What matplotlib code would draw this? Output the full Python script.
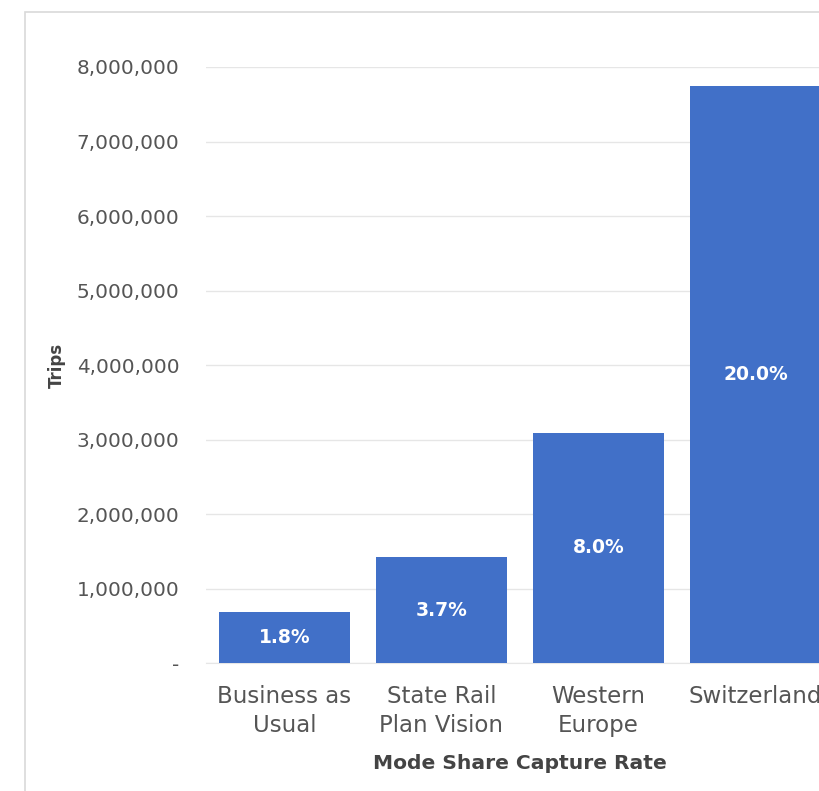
import matplotlib as mpl
mpl.use('Agg')
import matplotlib.pyplot as plt
from matplotlib.patches import Rectangle
from matplotlib.ticker import FuncFormatter

# data
categories = ["Business as\nUsual", "State Rail\nPlan Vision", "Western\nEurope", "Switzerland"]
trips = [690000, 1420000, 3090000, 7740000]
share_labels = ["1.8%", "3.7%", "8.0%", "20.0%"]
yticks = [0, 1000000, 2000000, 3000000, 4000000, 5000000, 6000000, 7000000, 8000000]

plt.rcParams['font.family'] = ['DejaVu Sans']

fig = plt.figure(figsize=(8.2, 7.91), dpi=100)
# plot area runs past the right edge, as in the cropped reference
ax = fig.add_axes([0.251, 0.1618, 0.766, 0.7535])

# outer frame of the chart container (top and left edge visible)
fig.add_artist(Rectangle((25 / 820, -0.1), 1.2, 1 - 12 / 791 + 0.1,
                         transform=fig.transFigure, fill=False,
                         edgecolor='#d9d9d9', linewidth=1.2))

x = range(len(categories))
bars = ax.bar(x, trips, width=0.83, color='#4170c8', zorder=3)

for b, lab in zip(bars, share_labels):
    ax.text(b.get_x() + b.get_width() / 2, b.get_height() / 2, lab,
            ha='center', va='center', color='white', fontsize=13.5,
            fontweight='bold', zorder=4)

ax.set_xlim(-0.5, len(categories) - 0.5)
ax.set_ylim(0, 8000000)
ax.set_yticks(yticks)
ax.yaxis.set_major_formatter(FuncFormatter(lambda v, p: '-' if v == 0 else '{:,.0f}'.format(v)))
ax.set_xticks(list(x))
ax.set_xticklabels(categories, fontsize=16.5, color='#555555', linespacing=1.3)

ax.grid(axis='y', color='#e6e6e6', linewidth=1, zorder=0)
ax.set_axisbelow(True)
for s in ['top', 'right', 'left']:
    ax.spines[s].set_visible(False)
ax.spines['bottom'].set_color('#e6e6e6')
ax.tick_params(axis='both', length=0)
ax.tick_params(axis='y', labelsize=14.4, labelcolor='#555555', pad=19)
ax.tick_params(axis='x', pad=16)

ax.set_xlabel("Mode Share Capture Rate", fontsize=14.6, fontweight='bold',
              color='#444444', labelpad=12.5)
ax.set_ylabel("Trips", fontsize=12, fontweight='bold', color='#444444',
              labelpad=8)

plt.savefig('out.png', dpi=100)
